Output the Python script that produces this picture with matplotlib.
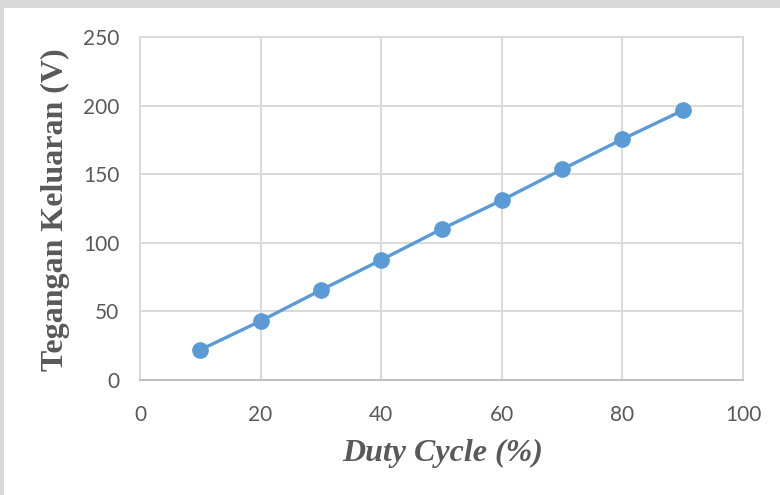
import matplotlib
matplotlib.use("Agg")
import matplotlib.pyplot as plt
from matplotlib.patches import Rectangle

# data
duty_cycle = [10, 20, 30, 40, 50, 60, 70, 80, 90]
tegangan = [22, 43, 65.5, 87.5, 110, 131, 153.5, 175.5, 196.5]

x_ticks = [0, 20, 40, 60, 80, 100]
y_ticks = [0, 50, 100, 150, 200, 250]

W, H = 780, 495
fig = plt.figure(figsize=(W / 100, H / 100), dpi=100)
fig.patch.set_facecolor('#d9d9d9')
# white page area (grey strip left and top as in the scan)
fig.patches.append(Rectangle((4 / W, 0), 1 - 4 / W, 1 - 8 / H,
                             transform=fig.transFigure, facecolor='white',
                             edgecolor='none', zorder=-1))

ax = fig.add_axes([140 / W, 1 - 380 / H, 603 / W, 343 / H])
ax.set_facecolor('white')

ax.plot(duty_cycle, tegangan, color='#5b9bd5', linewidth=2.4,
        marker='o', markersize=11, zorder=3)

ax.set_xlim(0, 100)
ax.set_ylim(0, 250)
ax.set_xticks(x_ticks)
ax.set_yticks(y_ticks)
ax.grid(True, color='#d9d9d9', linewidth=1.4)
ax.set_axisbelow(True)

for side in ['left', 'top', 'right']:
    ax.spines[side].set_color('#d9d9d9')
    ax.spines[side].set_linewidth(1.4)
ax.spines['bottom'].set_color('#bfbfbf')
ax.spines['bottom'].set_linewidth(1.4)

tick_font = ['Lato', 'Open Sans', 'DejaVu Sans']
ax.tick_params(axis='both', length=0, colors='#595959', labelsize=15)
ax.tick_params(axis='x', pad=18)
ax.tick_params(axis='y', pad=15)
for lab in ax.get_xticklabels() + ax.get_yticklabels():
    lab.set_family(tick_font)

fig.text(443 / W, 1 - 453 / H, 'Duty Cycle (%)', ha='center', va='center',
         fontsize=23, fontweight='bold', fontstyle='italic', color='#595959',
         family=['Liberation Serif', 'DejaVu Serif'])
fig.text(55 / W, 1 - 210 / H, 'Tegangan Keluaran (V)', ha='center', va='center',
         rotation=90, fontsize=23, fontweight='bold', color='#595959',
         family=['Liberation Serif', 'DejaVu Serif'])

fig.savefig('out.png', dpi=100, facecolor=fig.get_facecolor())
